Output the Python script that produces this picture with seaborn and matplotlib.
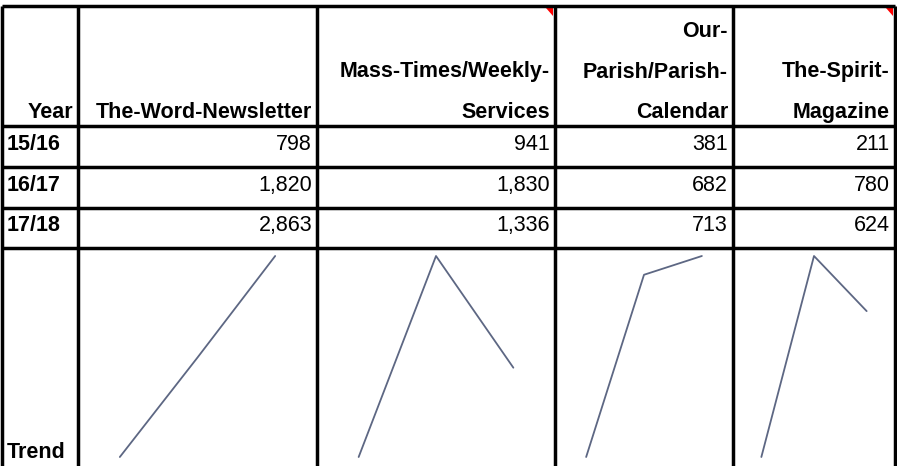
import matplotlib
matplotlib.use("Agg")
import matplotlib.pyplot as plt
from matplotlib import font_manager
from matplotlib.patches import Polygon
import numpy as np
import pandas as pd
import seaborn as sns

# Data
years = ["15/16", "16/17", "17/18"]
headers = ["The-Word-Newsletter", "Mass-Times/Weekly-\nServices",
           "Our-\nParish/Parish-\nCalendar", "The-Spirit-\nMagazine"]
word_newsletter = [798, 1820, 2863]
mass_times = [941, 1830, 1336]
parish_calendar = [381, 682, 713]
spirit_magazine = [211, 780, 624]
series = [word_newsletter, mass_times, parish_calendar, spirit_magazine]

# Layout (pixels)
W, H = 897, 466
col_x = [2, 78, 317, 555, 733, 895]
row_y = [6, 126, 167, 208, 248]
line_step = 40.5
spark_color = "#5d6783"

sns.set_style("white")
names = {f.name for f in font_manager.fontManager.ttflist}
font_sizes = {"Liberation Sans Narrow": 19.2, "DejaVu Sans Condensed": 15.5,
              "Liberation Sans": 15.5}
for fam in font_sizes:
    if fam in names:
        break
FS = font_sizes[fam]
plt.rcParams["font.family"] = [fam, "DejaVu Sans"]
plt.rcParams["text.color"] = "black"

fig = plt.figure(figsize=(W / 100, H / 100), dpi=100)
ax = fig.add_axes([0, 0, 1, 1])
ax.set_xlim(0, W)
ax.set_ylim(H, 0)
ax.axis("off")

# grid
lw = 2.5
for x in col_x:
    ax.plot([x, x], [row_y[0], H + 5], color="black", lw=lw, solid_capstyle="butt")
for y in row_y:
    ax.plot([col_x[0], col_x[-1]], [y, y], color="black", lw=lw, solid_capstyle="butt")

# comment markers
for x in [col_x[3], col_x[5]]:
    ax.add_patch(Polygon([[x - 9, row_y[0] + 2], [x - 2, row_y[0] + 2], [x - 2, row_y[0] + 10]],
                         closed=True, color="red", lw=0))

# header row
base = row_y[1] - 8
ax.text(col_x[1] - 5, base, "Year", ha="right", va="baseline", fontsize=FS,
        fontweight="bold", color="black")
for i, h in enumerate(headers):
    for k, part in enumerate(reversed(h.split("\n"))):
        ax.text(col_x[i + 2] - 5, base - k * line_step, part, ha="right", va="baseline",
                fontsize=FS, fontweight="bold", color="black")

# value rows
for r, yr in enumerate(years):
    yb = row_y[r + 2] - 17
    ax.text(col_x[0] + 5, yb, yr, ha="left", va="baseline", fontsize=FS,
            fontweight="bold", color="black")
    for i, vals in enumerate(series):
        ax.text(col_x[i + 2] - 5, yb, f"{vals[r]:,}", ha="right", va="baseline",
                fontsize=FS, color="black")

# trend row
ax.text(col_x[0] + 5, 458, "Trend", ha="left", va="baseline", fontsize=FS,
        fontweight="bold", color="black")

# sparklines
top, bottom = 256, 457
for i, vals in enumerate(series):
    x0, x1 = col_x[i + 1], col_x[i + 2]
    m = 0.175 * (x1 - x0)
    left, right = x0 + m, x1 - m
    sax = fig.add_axes([left / W, 1 - bottom / H, (right - left) / W, (bottom - top) / H])
    df = pd.DataFrame({"year": np.arange(len(years)), "value": vals})
    sns.lineplot(data=df, x="year", y="value", ax=sax, color=spark_color, linewidth=1.3)
    for ln in sax.lines:
        ln.set_clip_on(False)
    sax.set_xlim(0, len(years) - 1)
    sax.set_ylim(min(vals), max(vals))
    sax.axis("off")

fig.savefig("out.png", dpi=100)
